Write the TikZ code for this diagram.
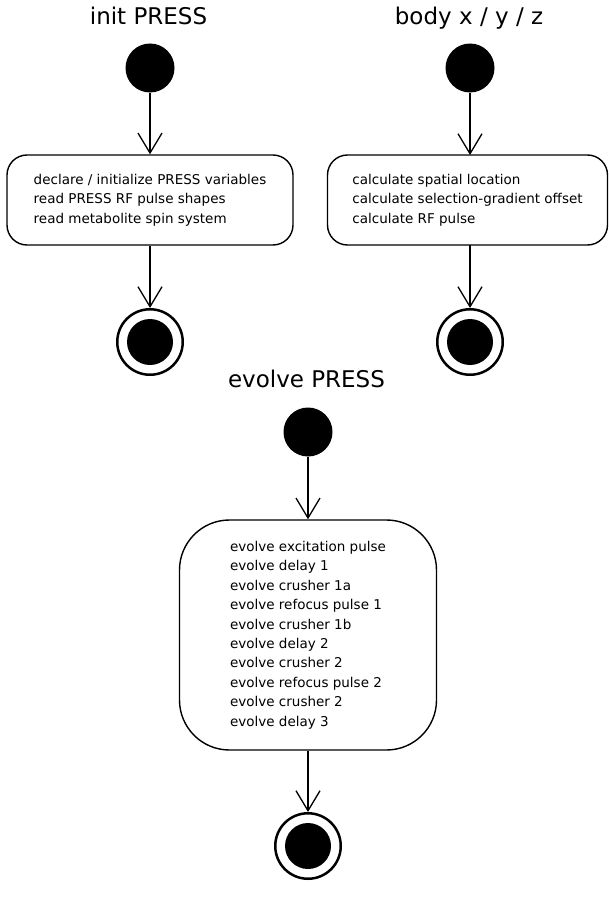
\documentclass[tikz,border=0pt]{standalone}
\usepackage{fontspec}
\setmainfont{DejaVu Sans}
\usetikzlibrary{arrows.meta}
\begin{document}
\begin{tikzpicture}[x=1pt,y=-1pt,
  title/.style={font=\fontsize{23}{27}\selectfont, anchor=base, inner sep=0},
  startdot/.style={circle, fill=black, minimum size=49pt, inner sep=0},
  enddot/.style={circle, draw=black, line width=2.5pt, minimum size=65.5pt, inner sep=0},
  enddisc/.style={circle, fill=black, minimum size=46pt, inner sep=0},
  activity/.style={draw, line width=1.4pt, align=left, font=\fontsize{13.5}{19.4}\selectfont, inner sep=0},
  flow/.style={line width=1.3pt, -{Straight Barb[length=20pt,width=24pt]}}
]
\useasboundingbox (0,0) rectangle (609,899);

% init PRESS
\node[title] (t1) at (148.5,25) {init PRESS};
\node[startdot] (s1) at (150,68) {};
\node[activity, rounded corners=20pt, minimum width=286pt, minimum height=90pt] (b1) at (150,200)
  {declare / initialize PRESS variables\\read PRESS RF pulse shapes\\read metabolite spin system};
\node[enddot] (e1) at (150,342) {};
\node[enddisc] (d1) at (150,342) {};
\draw[flow] (s1) -- (b1);
\draw[flow] (b1) -- (e1);

% body x / y / z
\node[title] (t2) at (469,25) {body x / y / z};
\node[startdot] (s2) at (470,68) {};
\node[activity, rounded corners=20pt, minimum width=280pt, minimum height=90pt] (b2) at (467.5,200)
  {calculate spatial location\\calculate selection-gradient offset\\calculate RF pulse};
\coordinate (b2top) at (470,155);
\coordinate (b2bot) at (470,245);
\node[enddot] (e2) at (470,342) {};
\node[enddisc] (d2) at (470,342) {};
\draw[flow] (s2) -- (b2top);
\draw[flow] (b2bot) -- (e2);

% evolve PRESS
\node[title] (t3) at (306.5,387) {evolve PRESS};
\node[startdot] (s3) at (308,432) {};
\node[activity, rounded corners=50pt, minimum width=257pt, minimum height=230pt] (b3) at (308,635)
  {evolve excitation pulse\\evolve delay 1\\evolve crusher 1a\\evolve refocus pulse 1\\evolve crusher 1b\\evolve delay 2\\evolve crusher 2\\evolve refocus pulse 2\\evolve crusher 2\\evolve delay 3};
\node[enddot] (e3) at (308,846) {};
\node[enddisc] (d3) at (308,846) {};
\draw[flow] (s3) -- (b3);
\draw[flow] (b3) -- (e3);
\end{tikzpicture}
\end{document}
